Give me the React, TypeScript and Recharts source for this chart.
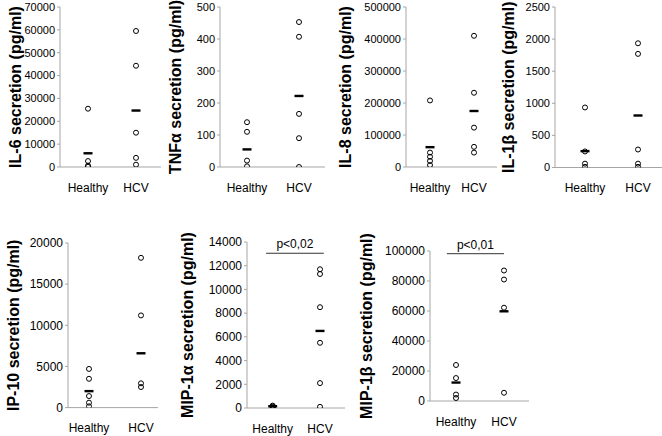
import React from "react";
import { ScatterChart, Scatter, XAxis, YAxis, ReferenceLine } from "recharts";

// ── Data (pg/ml) ──
const groups = ["Healthy", "HCV"];

const il6Healthy = [25500, 2600, 600, 100];
const il6Hcv = [59500, 44300, 15000, 4000, 1000];
const il6Means = [6000, 24700];
const il6Ticks = [0, 10000, 20000, 30000, 40000, 50000, 60000, 70000];

const tnfHealthy = [140, 110, 20, 2];
const tnfHcv = [453, 407, 166, 90, 0];
const tnfMeans = [55, 222];
const tnfTicks = [0, 100, 200, 300, 400, 500];

const il8Healthy = [208000, 45000, 32000, 19000, 6000];
const il8Hcv = [410000, 232000, 123000, 63000, 45000];
const il8Means = [62000, 175000];
const il8Ticks = [0, 100000, 200000, 300000, 400000, 500000];

const il1bHealthy = [935, 250, 60, 10];
const il1bHcv = [1935, 1770, 280, 60, 10];
const il1bMeans = [255, 810];
const il1bTicks = [0, 500, 1000, 1500, 2000, 2500];

const ip10Healthy = [4700, 3500, 1400, 600, 150];
const ip10Hcv = [18200, 11200, 2950, 2500];
const ip10Means = [2000, 6600];
const ip10Ticks = [0, 5000, 10000, 15000, 20000];

const mip1aHealthy = [200, 120, 60, 0];
const mip1aHcv = [11700, 11300, 8500, 5500, 2100, 100];
const mip1aMeans = [150, 6500];
const mip1aTicks = [0, 2000, 4000, 6000, 8000, 10000, 12000, 14000];

const mip1bHealthy = [24000, 15300, 4300, 2000];
const mip1bHcv = [87000, 81000, 62200, 5500];
const mip1bMeans = [12300, 59800];
const mip1bTicks = [0, 20000, 40000, 60000, 80000, 100000];

// ── Layout per panel (pixel positions) ──
interface PanelProps {
  title: string;
  healthy: number[];
  hcv: number[];
  means: number[];
  ticks: number[];
  axisX: number;
  right: number;
  top: number;
  bottom: number;
  healthyX: number;
  hcvX: number;
  titleDx: number;
  fontSize: number;
  bracket?: { label: string; y: number; from: number; to: number };
}

const YW = 76;
const TOP_PAD = 22;

function OpenCircle(props: { cx?: number; cy?: number }) {
  return <circle cx={props.cx} cy={props.cy} r={2.5} fill="none" stroke="#000" strokeWidth={1} />;
}

function MeanDash(props: { cx?: number; cy?: number }) {
  const cx = props.cx || 0;
  const cy = props.cy || 0;
  return <rect x={cx - 4.5} y={cy - 1.2} width={9} height={2.4} fill="#000" />;
}

function Panel(p: PanelProps) {
  const unit = p.hcvX - p.healthyX;
  const lo = 1 - (p.healthyX - p.axisX) / unit;
  const hi = 2 + (p.right - p.hcvX) / unit;
  const width = YW + (p.right - p.axisX) + 2;
  const height = p.bottom - p.top + TOP_PAD + 30;

  const healthyData = p.healthy.map((v) => ({ x: 1, y: v }));
  const hcvData = p.hcv.map((v) => ({ x: 2, y: v }));
  const meanData = p.means.map((v, i) => ({ x: i + 1, y: v }));

  return (
    <div style={{ position: "absolute", left: p.axisX - YW, top: p.top - TOP_PAD }}>
      <ScatterChart width={width} height={height} margin={{ top: TOP_PAD, right: 2, bottom: 0, left: 0 }}>
        <XAxis
          type="number"
          dataKey="x"
          domain={[lo, hi]}
          ticks={[1, 2]}
          tickFormatter={(v: number) => groups[v - 1]}
          height={30}
          stroke="#a6a6a6"
          tickSize={0}
          tickMargin={16}
          tick={{ fill: "#000", fontSize: 12 }}
          allowDataOverflow
        />
        <YAxis
          type="number"
          dataKey="y"
          domain={[0, p.ticks[p.ticks.length - 1]]}
          ticks={p.ticks}
          width={YW}
          stroke="#a6a6a6"
          tickSize={3}
          tickMargin={2}
          tick={{ fill: "#000", fontSize: p.fontSize }}
          allowDataOverflow
          label={{
            value: p.title,
            angle: -90,
            position: "insideLeft",
            offset: YW - p.titleDx,
            style: { textAnchor: "middle", fontWeight: "bold", fontSize: 16, fill: "#000" },
          }}
        />
        {p.bracket && (
          <ReferenceLine
            segment={[
              { x: p.bracket.from, y: p.bracket.y },
              { x: p.bracket.to, y: p.bracket.y },
            ]}
            stroke="#333"
            strokeWidth={1}
            label={{ value: p.bracket.label, position: "top", offset: 5, fill: "#000", fontSize: 12 }}
          />
        )}
        <Scatter data={healthyData} shape={<OpenCircle />} isAnimationActive={false} />
        <Scatter data={hcvData} shape={<OpenCircle />} isAnimationActive={false} />
        <Scatter data={meanData} shape={<MeanDash />} isAnimationActive={false} />
      </ScatterChart>
    </div>
  );
}

export default function App() {
  return (
    <div
      style={{
        position: "absolute",
        left: 0,
        top: 0,
        width: 662,
        height: 436,
        background: "#fff",
        overflow: "hidden",
        fontFamily: "'Liberation Sans', Arial, sans-serif",
      }}
    >
      <Panel title="IL-6 secretion (pg/ml)" healthy={il6Healthy} hcv={il6Hcv} means={il6Means} ticks={il6Ticks}
        axisX={60} right={161} top={7} bottom={167} healthyX={88} hcvX={136} titleDx={45} fontSize={11} />
      <Panel title="TNFα secretion (pg/ml)" healthy={tnfHealthy} hcv={tnfHcv} means={tnfMeans} ticks={tnfTicks}
        axisX={220} right={325} top={7} bottom={167} healthyX={247} hcvX={299} titleDx={45} fontSize={11} />
      <Panel title="IL-8 secretion (pg/ml)" healthy={il8Healthy} hcv={il8Hcv} means={il8Means} ticks={il8Ticks}
        axisX={406} right={497} top={7} bottom={167} healthyX={430} hcvX={474} titleDx={61} fontSize={11} />
      <Panel title="IL-1β secretion (pg/ml)" healthy={il1bHealthy} hcv={il1bHcv} means={il1bMeans} ticks={il1bTicks}
        axisX={555} right={662} top={7} bottom={167.5} healthyX={585} hcvX={638} titleDx={47} fontSize={11} />
      <Panel title="IP-10 secretion (pg/ml)" healthy={ip10Healthy} hcv={ip10Hcv} means={ip10Means} ticks={ip10Ticks}
        axisX={68} right={158} top={242.7} bottom={407.3} healthyX={89} hcvX={141} titleDx={55} fontSize={12} />
      <Panel title="MIP-1α secretion (pg/ml)" healthy={mip1aHealthy} hcv={mip1aHcv} means={mip1aMeans} ticks={mip1aTicks}
        axisX={247} right={345} top={242.3} bottom={408.3} healthyX={272.7} hcvX={320} titleDx={60} fontSize={12}
        bracket={{ label: "p<0,02", y: 13050, from: 0.86, to: 2.08 }} />
      <Panel title="MIP-1β secretion (pg/ml)" healthy={mip1bHealthy} hcv={mip1bHcv} means={mip1bMeans} ticks={mip1bTicks}
        axisX={430} right={529} top={250.7} bottom={400.7} healthyX={456} hcvX={504} titleDx={64} fontSize={12}
        bracket={{ label: "p<0,01", y: 98200, from: 0.81, to: 2.0 }} />
    </div>
  );
}
